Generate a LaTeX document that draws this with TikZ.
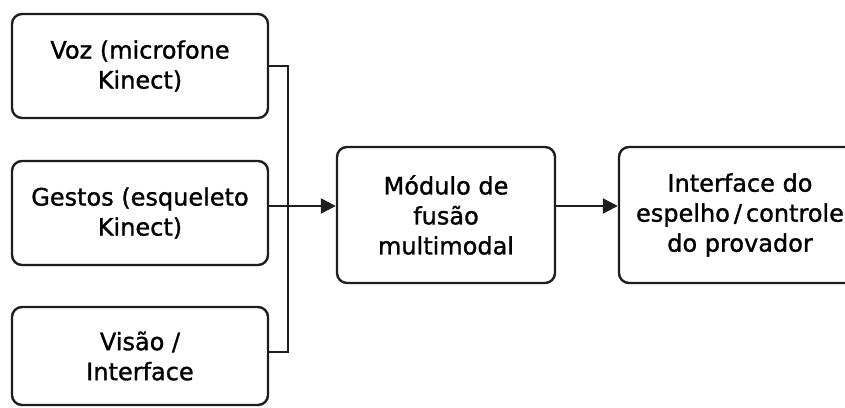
\documentclass[tikz,border=0pt]{standalone}
\usepackage{fontspec}
\newfontfamily\boxfont{DejaVu Sans}[FakeBold=1.2]
\usetikzlibrary{arrows.meta}
\definecolor{ink}{HTML}{1E1E1E}
\tikzset{
  block/.style={draw=ink, line width=2.4pt, rounded corners=10pt, fill=white,
    align=center, text=black, inner sep=0pt,
    font=\boxfont\fontsize{24}{30}\selectfont},
  link/.style={draw=ink, line width=2.4pt},
  tip/.style={-{Triangle[length=15pt,width=15pt]}}
}
\begin{document}
\begin{tikzpicture}[x=1pt,y=-1pt]
  \useasboundingbox (0,0) rectangle (845,407);
  \clip (0,0) rectangle (845,407);
  \fill[white] (0,0) rectangle (845,407);

  % inputs
  \node[block, minimum width=256pt, minimum height=104pt] (voz) at (140,66)
    {Voz (microfone\\Kinect)};
  \node[block, minimum width=256pt, minimum height=104pt] (gest) at (140,213)
    {Gestos (esqueleto\\Kinect)};
  \node[block, minimum width=256pt, minimum height=98pt] (vis) at (140,356)
    {Visão /\\Interface};

  % fusion and output
  \node[block, minimum width=218pt, minimum height=136pt] (fus) at (446,215)
    {Módulo de\\fusão\\multimodal};
  \node[block, minimum width=242pt, minimum height=136pt] (out) at (740,215)
    {Interface do\\espelho\,/\,controle\\do provador};

  % collector bus
  \coordinate (bus) at (288,206);
  \draw[link] (voz.east) -| (bus);
  \draw[link] ([yshift=4pt]vis.east) -| (bus);
  \draw[link, tip] (gest.east |- bus) -- (fus.west |- bus);
  \draw[link, tip] (fus.east |- bus) -- (out.west |- bus);
\end{tikzpicture}
\end{document}
